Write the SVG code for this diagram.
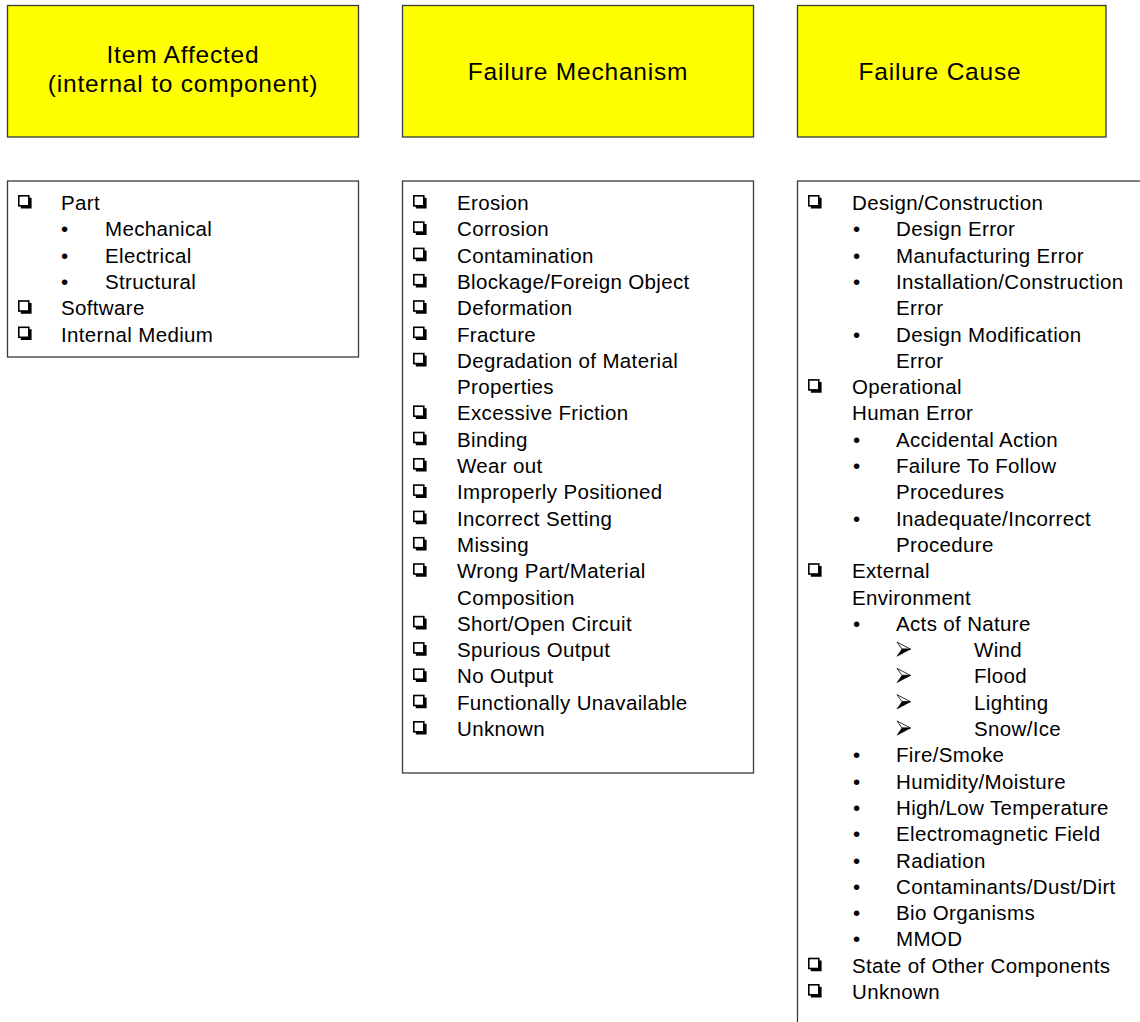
<svg xmlns="http://www.w3.org/2000/svg" xmlns:xlink="http://www.w3.org/1999/xlink" width="1140" height="1022" viewBox="0 0 1140 1022">
<style>
.hdr{fill:#ffff00;stroke:#3a3a3a;stroke-width:1.3}
.box{fill:#ffffff;stroke:#3a3a3a;stroke-width:1.3}
.ht{font-family:"Liberation Sans",Arial,sans-serif;font-size:24.5px;letter-spacing:0.8px;fill:#000;text-anchor:middle}
.t{font-family:"Liberation Sans",Arial,sans-serif;font-size:20.5px;letter-spacing:0.35px;fill:#000}
</style>
<defs>
<g id="cb">
<rect x="0.8" y="-14.2" width="10" height="10" fill="#fff" stroke="#000" stroke-width="1.6"/>
<path d="M10.8,-12.2 H13.6 V-1.4 H2.8 V-4.2 H10.8 Z" fill="#000"/>
</g>
<g id="ar">
<polygon points="0,-15 13.5,-8 5,-8" fill="#fff" stroke="#000" stroke-width="0.8" stroke-linejoin="round"/>
<polygon points="5,-8 13.5,-8 0,-0.8" fill="#000" stroke="#000" stroke-width="0.6"/>
</g>
</defs>
<g id="connectors"/>
<g id="header-item">
<rect class="hdr" x="7.5" y="5.5" width="351" height="131.5"/>
<text class="ht" x="183" y="63">Item Affected</text>
<text class="ht" x="183" y="92">(internal to component)</text>
</g>
<g id="header-mechanism">
<rect class="hdr" x="402.5" y="5.5" width="351" height="131.5"/>
<text class="ht" x="578" y="80">Failure Mechanism</text>
</g>
<g id="header-cause">
<rect class="hdr" x="797.5" y="5.5" width="308.5" height="131.5"/>
<text class="ht" x="940" y="80">Failure Cause</text>
</g>
<g id="list-item">
<rect class="box" x="7.5" y="181" width="351" height="176"/>
<use xlink:href="#cb" x="18" y="210"/><text class="t" x="61" y="210">Part</text>
<text class="t" x="61" y="236.3">•</text><text class="t" x="105" y="236.3">Mechanical</text>
<text class="t" x="61" y="262.6">•</text><text class="t" x="105" y="262.6">Electrical</text>
<text class="t" x="61" y="288.9">•</text><text class="t" x="105" y="288.9">Structural</text>
<use xlink:href="#cb" x="18" y="315.2"/><text class="t" x="61" y="315.2">Software</text>
<use xlink:href="#cb" x="18" y="341.5"/><text class="t" x="61" y="341.5">Internal Medium</text>
</g>
<g id="list-mechanism">
<rect class="box" x="402.5" y="181" width="351" height="592"/>
<use xlink:href="#cb" x="413" y="210"/><text class="t" x="457" y="210">Erosion</text>
<use xlink:href="#cb" x="413" y="236.3"/><text class="t" x="457" y="236.3">Corrosion</text>
<use xlink:href="#cb" x="413" y="262.6"/><text class="t" x="457" y="262.6">Contamination</text>
<use xlink:href="#cb" x="413" y="288.9"/><text class="t" x="457" y="288.9">Blockage/Foreign Object</text>
<use xlink:href="#cb" x="413" y="315.2"/><text class="t" x="457" y="315.2">Deformation</text>
<use xlink:href="#cb" x="413" y="341.5"/><text class="t" x="457" y="341.5">Fracture</text>
<use xlink:href="#cb" x="413" y="367.8"/><text class="t" x="457" y="367.8">Degradation of Material</text>
<text class="t" x="457" y="394.1">Properties</text>
<use xlink:href="#cb" x="413" y="420.4"/><text class="t" x="457" y="420.4">Excessive Friction</text>
<use xlink:href="#cb" x="413" y="446.7"/><text class="t" x="457" y="446.7">Binding</text>
<use xlink:href="#cb" x="413" y="473"/><text class="t" x="457" y="473">Wear out</text>
<use xlink:href="#cb" x="413" y="499.3"/><text class="t" x="457" y="499.3">Improperly Positioned</text>
<use xlink:href="#cb" x="413" y="525.6"/><text class="t" x="457" y="525.6">Incorrect Setting</text>
<use xlink:href="#cb" x="413" y="551.9"/><text class="t" x="457" y="551.9">Missing</text>
<use xlink:href="#cb" x="413" y="578.2"/><text class="t" x="457" y="578.2">Wrong Part/Material</text>
<text class="t" x="457" y="604.5">Composition</text>
<use xlink:href="#cb" x="413" y="630.8"/><text class="t" x="457" y="630.8">Short/Open Circuit</text>
<use xlink:href="#cb" x="413" y="657.1"/><text class="t" x="457" y="657.1">Spurious Output</text>
<use xlink:href="#cb" x="413" y="683.4"/><text class="t" x="457" y="683.4">No Output</text>
<use xlink:href="#cb" x="413" y="709.7"/><text class="t" x="457" y="709.7">Functionally Unavailable</text>
<use xlink:href="#cb" x="413" y="736"/><text class="t" x="457" y="736">Unknown</text>
</g>
<g id="list-cause">
<rect class="box" x="797.5" y="181" width="360" height="860"/>
<use xlink:href="#cb" x="808" y="210"/><text class="t" x="852" y="210">Design/Construction</text>
<text class="t" x="853" y="236.3">•</text><text class="t" x="896" y="236.3">Design Error</text>
<text class="t" x="853" y="262.6">•</text><text class="t" x="896" y="262.6">Manufacturing Error</text>
<text class="t" x="853" y="288.9">•</text><text class="t" x="896" y="288.9">Installation/Construction</text>
<text class="t" x="896" y="315.2">Error</text>
<text class="t" x="853" y="341.5">•</text><text class="t" x="896" y="341.5">Design Modification</text>
<text class="t" x="896" y="367.8">Error</text>
<use xlink:href="#cb" x="808" y="394.1"/><text class="t" x="852" y="394.1">Operational</text>
<text class="t" x="852" y="420.4">Human Error</text>
<text class="t" x="853" y="446.7">•</text><text class="t" x="896" y="446.7">Accidental Action</text>
<text class="t" x="853" y="473">•</text><text class="t" x="896" y="473">Failure To Follow</text>
<text class="t" x="896" y="499.3">Procedures</text>
<text class="t" x="853" y="525.6">•</text><text class="t" x="896" y="525.6">Inadequate/Incorrect</text>
<text class="t" x="896" y="551.9">Procedure</text>
<use xlink:href="#cb" x="808" y="578.2"/><text class="t" x="852" y="578.2">External</text>
<text class="t" x="852" y="604.5">Environment</text>
<text class="t" x="853" y="630.8">•</text><text class="t" x="896" y="630.8">Acts of Nature</text>
<use xlink:href="#ar" x="897" y="657.1"/><text class="t" x="974" y="657.1">Wind</text>
<use xlink:href="#ar" x="897" y="683.4"/><text class="t" x="974" y="683.4">Flood</text>
<use xlink:href="#ar" x="897" y="709.7"/><text class="t" x="974" y="709.7">Lighting</text>
<use xlink:href="#ar" x="897" y="736"/><text class="t" x="974" y="736">Snow/Ice</text>
<text class="t" x="853" y="762.3">•</text><text class="t" x="896" y="762.3">Fire/Smoke</text>
<text class="t" x="853" y="788.6">•</text><text class="t" x="896" y="788.6">Humidity/Moisture</text>
<text class="t" x="853" y="814.9">•</text><text class="t" x="896" y="814.9">High/Low Temperature</text>
<text class="t" x="853" y="841.2">•</text><text class="t" x="896" y="841.2">Electromagnetic Field</text>
<text class="t" x="853" y="867.5">•</text><text class="t" x="896" y="867.5">Radiation</text>
<text class="t" x="853" y="893.8">•</text><text class="t" x="896" y="893.8">Contaminants/Dust/Dirt</text>
<text class="t" x="853" y="920.1">•</text><text class="t" x="896" y="920.1">Bio Organisms</text>
<text class="t" x="853" y="946.4">•</text><text class="t" x="896" y="946.4">MMOD</text>
<use xlink:href="#cb" x="808" y="972.7"/><text class="t" x="852" y="972.7">State of Other Components</text>
<use xlink:href="#cb" x="808" y="999"/><text class="t" x="852" y="999">Unknown</text>
</g>
</svg>
